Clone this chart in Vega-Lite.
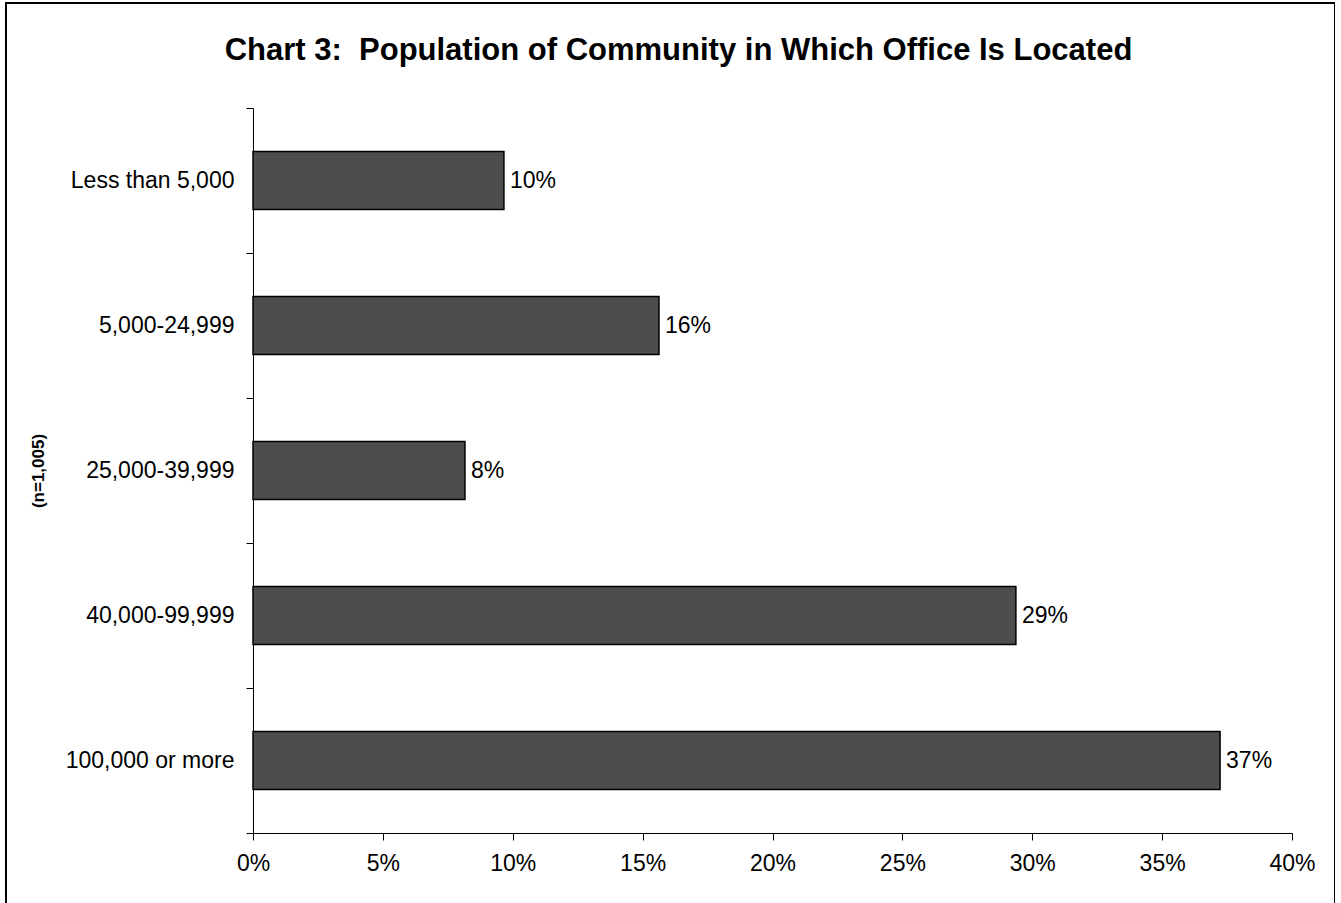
{
  "$schema": "https://vega.github.io/schema/vega-lite/v6.json",
  "autosize": {"type": "none"},
  "padding": {"left": 6, "top": 3, "right": 0, "bottom": 0},
  "width": 1329,
  "height": 910,
  "background": "white",
  "config": {
    "font": "Liberation Sans",
    "view": {"stroke": "black", "strokeWidth": 2},
    "axis": {"grid": false, "domainColor": "black", "tickColor": "black", "labelColor": "black", "titleColor": "black", "labelFont": "Liberation Sans", "titleFont": "Liberation Sans"}
  },
  "title": {
    "text": "Chart 3:\u00a0 Population of Community in Which Office Is Located",
    "font": "Liberation Sans",
    "fontSize": 31,
    "fontWeight": "bold",
    "color": "black",
    "anchor": "middle",
    "frame": "group",
    "baseline": "alphabetic",
    "offset": -42,
    "dx": 8,
    "dy": 57
  },
  "data": {
    "values": [
      {"category": "Less than 5,000", "share": 0.0966},
      {"category": "5,000-24,999", "share": 0.1563},
      {"category": "25,000-39,999", "share": 0.0816},
      {"category": "40,000-99,999", "share": 0.2937},
      {"category": "100,000 or more", "share": 0.3723}
    ]
  },
  "encoding": {
    "y": {
      "field": "category",
      "type": "nominal",
      "sort": null,
      "scale": {"range": [105, 830], "paddingInner": 0, "paddingOuter": 0},
      "axis": {
        "orient": "left",
        "offset": -247,
        "title": "(n=1,005)",
        "titleFontSize": 17,
        "titleFontWeight": "bold",
        "titleAngle": 270,
        "titleBaseline": "middle",
        "titleX": -215,
        "labelFontSize": 23,
        "labelPadding": 12,
        "tickSize": 7,
        "tickBand": "extent",
        "domainWidth": 1,
        "tickWidth": 1
      }
    },
    "x": {
      "field": "share",
      "type": "quantitative",
      "scale": {"domain": [0, 0.4], "range": [247, 1286], "nice": false, "zero": true},
      "axis": {
        "orient": "bottom",
        "offset": -80,
        "title": null,
        "format": ".0%",
        "values": [0, 0.05, 0.1, 0.15, 0.2, 0.25, 0.3, 0.35, 0.4],
        "labelFontSize": 23,
        "labelPadding": 12,
        "tickSize": 7,
        "domainWidth": 1,
        "tickWidth": 1,
        "labelFlush": false
      }
    }
  },
  "layer": [
    {
      "mark": {"type": "bar", "height": {"band": 0.4}, "color": "#4d4d4d", "stroke": "black", "strokeWidth": 1.5}
    },
    {
      "mark": {"type": "text", "align": "left", "baseline": "middle", "dx": 6, "fontSize": 23, "color": "black", "font": "Liberation Sans"},
      "encoding": {
        "text": {"field": "share", "type": "quantitative", "format": ".0%"}
      }
    }
  ]
}
